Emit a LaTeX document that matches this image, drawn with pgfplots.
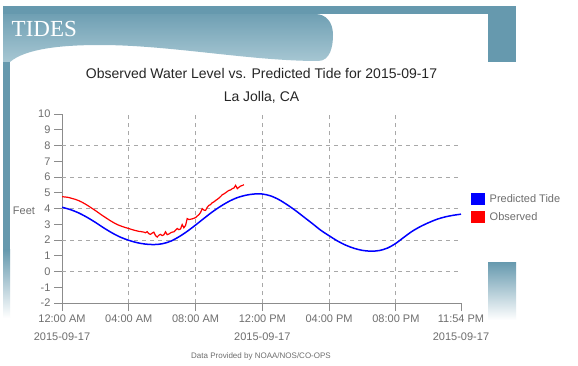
\documentclass[border=0pt]{standalone}
\usepackage{pgfplots}
\pgfplotsset{compat=1.18}
\usepackage{fontspec}
\setmainfont{Liberation Sans}
\newfontfamily\tidesfont{Liberation Serif}
\definecolor{tealA}{HTML}{6699AE}
\definecolor{tealB}{HTML}{A7C7D3}
\definecolor{txtgray}{HTML}{6E6E6E}
\definecolor{gridgray}{HTML}{A8A8A8}
\definecolor{axgray}{HTML}{8C8C8C}

\begin{document}
\begin{tikzpicture}[x=1pt,y=1pt]
\path[use as bounding box] (0,0) rectangle (578,365);
\fill[white] (0,0) rectangle (578,365);
% decorative frame
\fill[tealA] (3,115) rectangle (10,359);
\shade[top color=tealA, bottom color=white] (3,47) rectangle (10,115.5);
\fill[tealA] (3,351) rectangle (516,359);
\fill[tealA] (488,303) rectangle (516,359);
\shade[top color=tealA, bottom color=tealB]
  (3,303) -- (10,303) .. controls (25,316) and (60,320) .. (100,320)
  .. controls (170,320) and (250,304) .. (318,304)
  .. controls (330,304) and (333,318) .. (333,330)
  .. controls (333,343) and (326,351) .. (315,351) -- (3,351) -- (3,359) -- (3,303) -- cycle;
\fill[tealA] (3,351) rectangle (320,359);
\shade[top color=tealA, bottom color=white] (488,45) rectangle (516,103);
\node[anchor=base west, inner sep=0pt, text=white, font=\tidesfont\fontsize{23}{23}\selectfont] at (11.5,328.3) {TIDES};

% titles
\node[font=\fontsize{14}{16}\selectfont, text=black!85] at (261.5,292) {Observed Water Level vs. Predicted Tide for 2015-09-17};
\node[font=\fontsize{14}{16}\selectfont, text=black!85] at (261.5,268) {La Jolla, CA};
\node[font=\fontsize{8}{9}\selectfont, text=txtgray] at (261,8.5) {Data Provided by NOAA/NOS/CO-OPS};
\node[font=\fontsize{11}{13}\selectfont, text=txtgray] at (24,154) {Feet};

\begin{axis}[
  at={(62pt,62pt)}, anchor=south west,
  scale only axis, width=399pt, height=189pt,
  xmin=0, xmax=23.9, ymin=-2, ymax=10,
  axis x line*=bottom, axis y line*=left,
  axis line style={axgray, line width=0.8pt},
  tick align=outside,
  major tick length=8pt,
  tick style={axgray, line width=0.8pt},
  ytick={-2,-1,0,1,2,3,4,5,6,7,8,9,10},
  yticklabels={-2,-1,0,1,2,3,4,5,6,7,8,9,10},
  xtick={0,4,8,12,16,20,23.9},
  xticklabels={12:00 AM\\2015-09-17, 04:00 AM, 08:00 AM, 12:00 PM\\2015-09-17, 04:00 PM, 08:00 PM, 11:54 PM\\2015-09-17},
  tick label style={font=\fontsize{11}{18}\selectfont, text=txtgray},
  xticklabel style={align=center},
  extra y ticks={0,2,4,6,8},
  extra y tick labels={},
  extra y tick style={ymajorgrids=true, major tick length=0pt},
  extra x ticks={4,8,12,16,20},
  extra x tick labels={},
  extra x tick style={xmajorgrids=true, major tick length=0pt},
  major grid style={gridgray, dash pattern=on 4pt off 4pt, line width=0.8pt},
  legend style={at={(axis description cs:1.0251,0.585)}, anchor=north west, draw=none, fill=none,
    inner sep=0pt, font=\fontsize{11}{13}\selectfont, text=txtgray, row sep=6pt,
    nodes={inner sep=1pt}},
  legend cell align=left,
]
\addplot[blue, line width=1.5pt, smooth, legend image code/.code={\fill[blue] (0pt,-5.5pt) rectangle (12pt,5.5pt); \path (16pt,0pt);}] coordinates {
(0.0,4.08) (0.5,3.93) (1.0,3.72) (1.5,3.44) (2.0,3.12) (2.5,2.77) (3.0,2.45) (3.5,2.18)
(4.0,1.98) (4.5,1.83) (5.0,1.74) (5.5,1.71) (6.0,1.76) (6.5,1.92) (7.0,2.20) (7.5,2.55)
(8.0,2.95) (8.5,3.37) (9.0,3.78) (9.5,4.14) (10.0,4.45) (10.5,4.69) (11.0,4.84) (11.5,4.92)
(12.0,4.92) (12.5,4.80) (13.0,4.56) (13.5,4.23) (14.0,3.86) (14.5,3.45) (15.0,3.04) (15.5,2.62)
(16.0,2.27) (16.5,1.94) (17.0,1.67) (17.5,1.47) (18.0,1.34) (18.5,1.29) (19.0,1.33) (19.5,1.49)
(20.0,1.79) (20.5,2.19) (21.0,2.57) (21.5,2.87) (22.0,3.12) (22.5,3.33) (23.0,3.48) (23.5,3.58)
(23.9,3.64)
};
\addlegendentry{Predicted Tide}
\addplot[red, line width=1.2pt, legend image code/.code={\fill[red] (0pt,-5.5pt) rectangle (12pt,5.5pt); \path (16pt,0pt);}] coordinates {
(0.0,4.75) (0.2,4.73) (0.4,4.70) (0.6,4.64) (0.8,4.58) (1.0,4.50) (1.2,4.40) (1.4,4.28)
(1.6,4.15) (1.8,4.01) (2.0,3.87) (2.2,3.72) (2.4,3.57) (2.6,3.43) (2.8,3.29) (3.0,3.16)
(3.2,3.04) (3.4,2.94) (3.6,2.86) (3.8,2.79) (4.0,2.73) (4.2,2.66) (4.4,2.60) (4.6,2.55)
(4.7,2.54) (4.8,2.52) (4.9,2.50) (5.0,2.46) (5.1,2.53) (5.2,2.40) (5.3,2.36) (5.4,2.44)
(5.5,2.50) (5.6,2.28) (5.7,2.19) (5.8,2.30) (5.9,2.36) (6.0,2.28) (6.1,2.33) (6.2,2.52)
(6.3,2.34) (6.4,2.38) (6.5,2.45) (6.6,2.50) (6.7,2.52) (6.8,2.62) (6.9,2.73) (7.0,2.66)
(7.1,2.70) (7.2,2.98) (7.3,2.78) (7.4,2.92) (7.5,3.36) (7.6,3.30) (7.7,3.32) (7.8,3.34)
(7.9,3.38) (8.0,3.42) (8.1,3.52) (8.2,3.61) (8.3,3.75) (8.4,3.99) (8.5,3.90) (8.6,3.88)
(8.7,4.08) (8.8,4.20) (8.9,4.25) (9.0,4.37) (9.1,4.42) (9.2,4.51) (9.3,4.58) (9.4,4.66)
(9.5,4.76) (9.6,4.87) (9.7,4.93) (9.8,5.00) (9.9,5.08) (10.0,5.15) (10.1,5.18) (10.2,5.26)
(10.3,5.30) (10.4,5.47) (10.5,5.26) (10.6,5.35) (10.7,5.43) (10.8,5.46) (10.9,5.51)
};
\addlegendentry{Observed}
\end{axis}
\end{tikzpicture}
\end{document}
